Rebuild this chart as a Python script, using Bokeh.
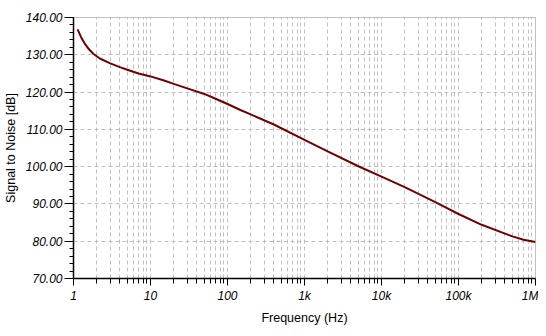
from bokeh.plotting import figure
from bokeh.models import FixedTicker, PrintfTickFormatter, Range1d
from bokeh.embed import file_html
from bokeh.resources import INLINE

# Data
freq_hz = [1.13, 1.25, 1.4, 1.6, 1.82, 2.2, 3.0, 4.0, 5.0, 7.0, 10, 15, 20, 30, 50, 70,
           100, 147, 200, 400, 1000, 2000, 5000, 10000, 20000, 50000, 100000, 200000,
           500000, 700000, 1000000]
snr_db = [136.8, 134.8, 133.0, 131.4, 130.2, 129.0, 127.7, 126.7, 126.0, 125.0, 124.2, 123.1,
          122.2, 121.0, 119.5, 118.2, 116.8, 115.2, 114.0, 111.3, 107.2, 104.1, 100.1, 97.3,
          94.5, 90.5, 87.3, 84.4, 81.3, 80.4, 79.8]

x_major = [1, 10, 100, 1000, 10000, 100000, 1000000]
x_labels = ["1", "10", "100", "1k", "10k", "100k", "1M"]
x_minor = [m * d for d in [1, 10, 100, 1000, 10000, 100000] for m in range(2, 10)]
y_major = [70, 80, 90, 100, 110, 120, 130, 140]
y_minor = list(range(70, 141, 2))

p = figure(width=538, height=328, x_axis_type="log", output_backend="svg",
           toolbar_location=None, min_border_left=73, min_border_right=3,
           min_border_top=17, min_border_bottom=50)
p.x_range = Range1d(1, 1000000)
p.y_range = Range1d(70, 140)

p.line(freq_hz, snr_db, line_color="#730000", line_width=2)

p.outline_line_color = "#c0c0c0"
p.background_fill_color = "white"
p.border_fill_color = "white"

# X axis
p.xaxis.ticker = FixedTicker(ticks=x_major, minor_ticks=x_minor)
p.xaxis.major_label_overrides = {v: s for v, s in zip(x_major, x_labels)}
p.xaxis.axis_label = "Frequency (Hz)"
# Y axis
p.yaxis.ticker = FixedTicker(ticks=y_major, minor_ticks=y_minor)
p.yaxis.formatter = PrintfTickFormatter(format="%.2f")
p.yaxis.axis_label = "Signal to Noise [dB]"

for ax in (p.xaxis, p.yaxis):
    ax.axis_line_color = "black"
    ax.axis_line_width = 1.5
    ax.major_tick_line_color = "black"
    ax.minor_tick_line_color = "black"
    ax.major_tick_in = 0
    ax.minor_tick_in = 0
    ax.major_label_text_font = "Liberation Sans"
    ax.major_label_text_font_style = "italic"
    ax.major_label_text_font_size = "12px"
    ax.major_label_text_color = "black"
    ax.axis_label_text_font = "Liberation Sans"
    ax.axis_label_text_font_style = "normal"
    ax.axis_label_text_font_size = "12.5px"
    ax.axis_label_text_color = "black"

p.xaxis.major_tick_out = 7
p.xaxis.minor_tick_out = 5
p.yaxis.major_tick_out = 9
p.yaxis.minor_tick_out = 4
p.xaxis.major_label_standoff = 3
p.xaxis.axis_label_standoff = 5
p.yaxis.major_label_standoff = 2
p.yaxis.axis_label_standoff = 5

p.xgrid.ticker = FixedTicker(ticks=x_major + x_minor)
p.xgrid.grid_line_color = "#c0c0c0"
p.xgrid.grid_line_dash = "4 3"
p.ygrid.ticker = FixedTicker(ticks=y_major)
p.ygrid.grid_line_color = "#c0c0c0"
p.ygrid.grid_line_dash = "4 3"

open("out.html", "w").write(file_html(p, INLINE))
